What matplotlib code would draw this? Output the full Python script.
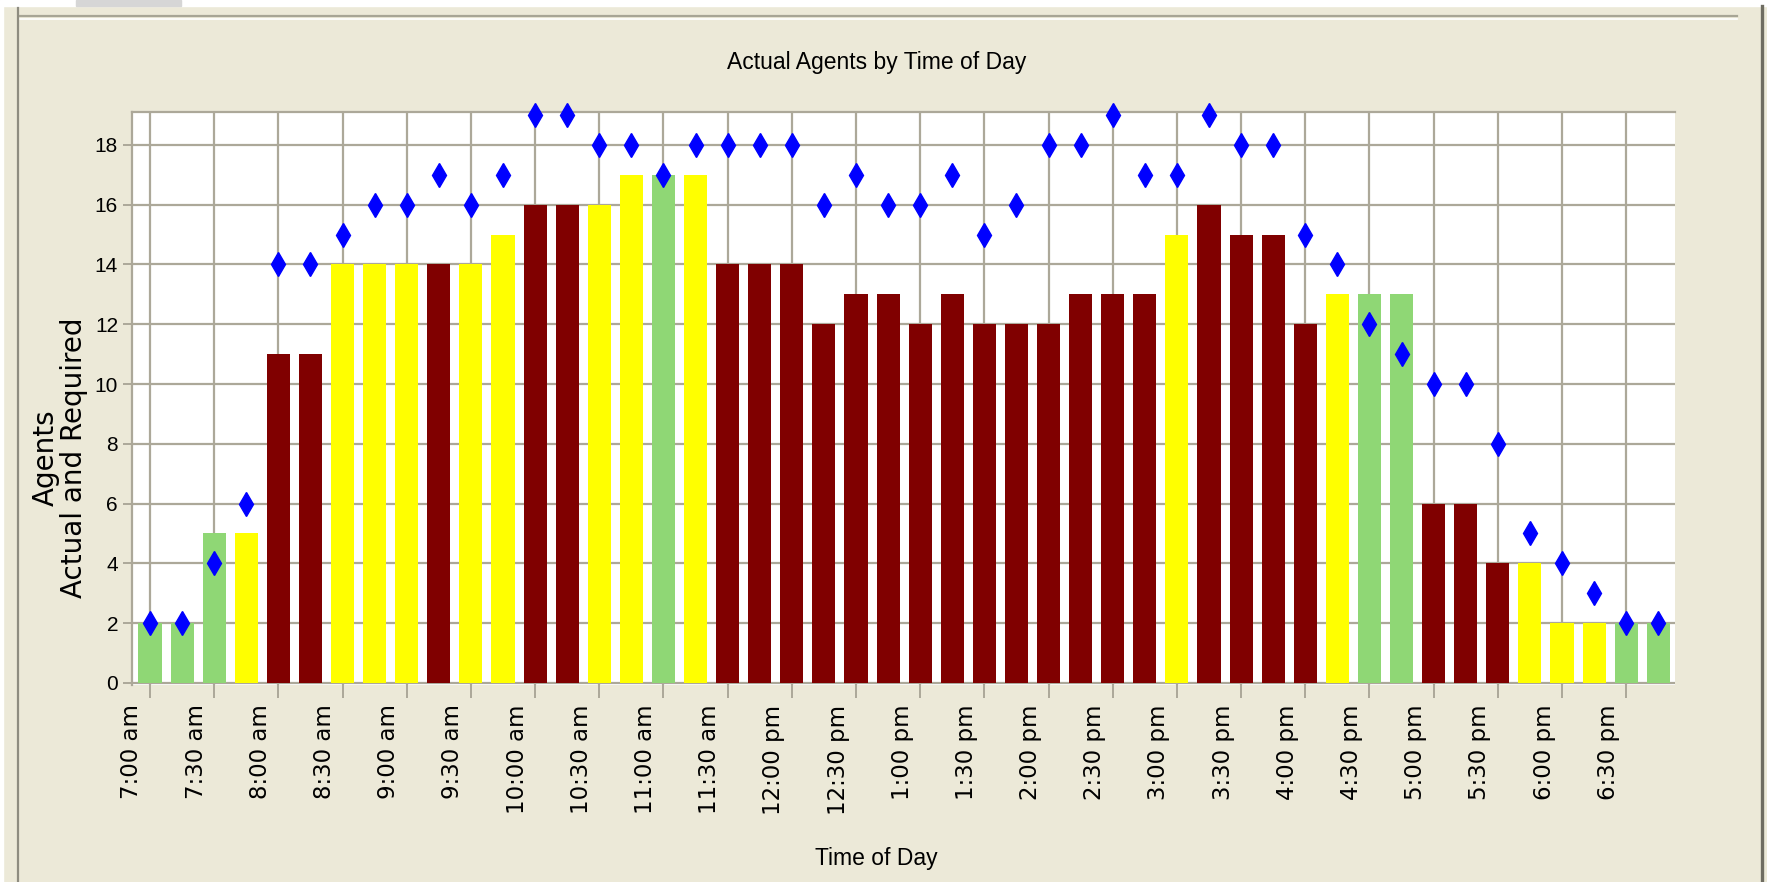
#import libraries
import numpy as np
import matplotlib
matplotlib.use('Agg')
import matplotlib.pyplot as plt
from matplotlib.patches import Rectangle
from matplotlib.lines import Line2D

#data, one bar per 15 minutes from 7:00 am
actual = [2, 2, 5, 5, 11, 11, 14, 14, 14, 14, 14, 15, 16, 16, 16, 17,
          17, 17, 14, 14, 14, 12, 13, 13, 12, 13, 12, 12, 12, 13, 13, 13,
          15, 16, 15, 15, 12, 13, 13, 13, 6, 6, 4, 4, 2, 2, 2, 2]
required = [2, 2, 4, 6, 14, 14, 15, 16, 16, 17, 16, 17, 19, 19, 18, 18,
            17, 18, 18, 18, 18, 16, 17, 16, 16, 17, 15, 16, 18, 18, 19, 17,
            17, 19, 18, 18, 15, 14, 12, 11, 10, 10, 8, 5, 4, 3, 2, 2]
time_labels = ['7:00 am', '7:30 am', '8:00 am', '8:30 am', '9:00 am', '9:30 am',
               '10:00 am', '10:30 am', '11:00 am', '11:30 am', '12:00 pm', '12:30 pm',
               '1:00 pm', '1:30 pm', '2:00 pm', '2:30 pm', '3:00 pm', '3:30 pm',
               '4:00 pm', '4:30 pm', '5:00 pm', '5:30 pm', '6:00 pm', '6:30 pm']

#colour by shortfall: none = green, 1-2 = yellow, 3+ = dark red
def bar_colour(a, r):
    short = r - a
    if short <= 0:
        return '#8FD775'
    if short <= 2:
        return '#FFFF00'
    return '#800000'

colours = [bar_colour(a, r) for a, r in zip(actual, required)]
x = np.arange(len(actual))

bg = '#ECE9D8'
grid_c = '#ACA899'

fig = plt.figure(figsize=(17.67, 8.82), dpi=100)
fig.patch.set_facecolor(bg)

#window decorations
W, H = 1767.0, 882.0
fig.add_artist(Rectangle((0, 1 - 6 / H), 1, 6 / H, transform=fig.transFigure, color='white', zorder=0))
fig.add_artist(Rectangle((76 / W, 1 - 6 / H), 105 / W, 6 / H, transform=fig.transFigure, color='#D6D6D6', zorder=1))
fig.add_artist(Rectangle((0, 0), 3 / W, 1, transform=fig.transFigure, color='white', zorder=0))
fig.add_artist(Line2D([20 / W, 1737 / W], [1 - 16 / H, 1 - 16 / H], transform=fig.transFigure, color='#A7A595', lw=1.6))
fig.add_artist(Line2D([20 / W, 1737 / W], [1 - 18.5 / H, 1 - 18.5 / H], transform=fig.transFigure, color='white', lw=1.2))
fig.add_artist(Line2D([18 / W, 18 / W], [0, 1 - 8 / H], transform=fig.transFigure, color='#8E8C80', lw=1.6))
fig.add_artist(Line2D([1762 / W, 1762 / W], [0, 1 - 6 / H], transform=fig.transFigure, color='#6F6D62', lw=2.4))

ax = fig.add_axes([132 / W, 1 - 685 / H, (1675 - 132) / W, (685 - 112) / H])
ax.set_facecolor('white')
ax.bar(x, actual, width=0.72, color=colours, zorder=2)
ax.plot(x, required, linestyle='none', marker='d', markersize=12.5, color='#0000FF', zorder=3, clip_on=False)

ax.set_xlim(-0.56, 47.52)
ax.set_ylim(-0.07, 19.1)
ax.set_yticks(range(0, 19, 2))
#major ticks carry the grid, minor ticks (shifted left) carry the labels
ax.set_xticks(x[::2])
ax.set_xticklabels([])
ax.set_xticks(x[::2] - 0.56, minor=True)
ax.set_xticklabels(time_labels, minor=True, rotation=90, family='DejaVu Sans', fontsize=16.5)
for lab in ax.get_yticklabels():
    lab.set_family('Liberation Sans')
    lab.set_fontsize(15)

ax.tick_params(axis='x', which='major', length=9.5, width=1.4, color=grid_c)
ax.tick_params(axis='x', which='minor', length=0, pad=14)
ax.tick_params(axis='y', length=6.5, width=1.4, color=grid_c, pad=3.5)
ax.grid(True, which='major', color=grid_c, linewidth=1.6)
ax.set_axisbelow(True)
for side in ['right', 'bottom']:
    ax.spines[side].set_visible(False)
for side in ['top', 'left']:
    ax.spines[side].set_color(grid_c)
    ax.spines[side].set_linewidth(1.6)

#titles and labels
fig.text(877 / W, 1 - 62 / H, 'Actual Agents by Time of Day', ha='center', va='center',
         family='Liberation Sans', fontsize=16.5)
fig.text(876 / W, 1 - 858 / H, 'Time of Day', ha='center', va='center',
         family='Liberation Sans', fontsize=16.5)
fig.text(60 / W, 1 - 458 / H, 'Agents\nActual and Required', rotation=90, ha='center', va='center',
         family='DejaVu Sans', fontsize=20, linespacing=1.0, multialignment='center')

plt.savefig('out.png', dpi=100, facecolor=fig.get_facecolor())
